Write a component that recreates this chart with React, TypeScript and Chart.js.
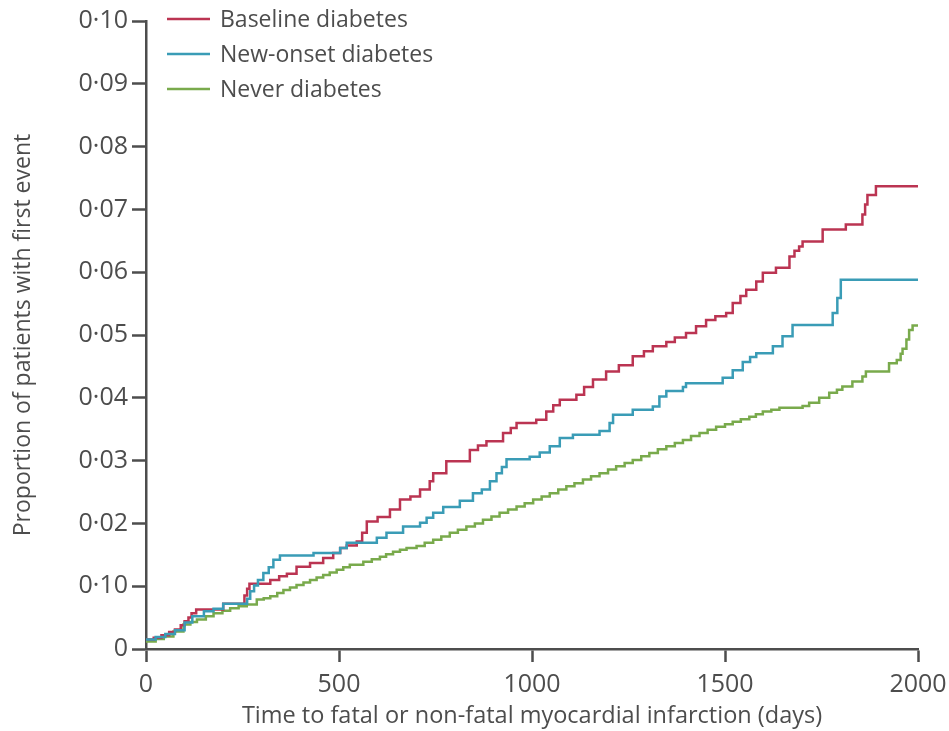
import React, { useEffect, useRef } from "react";
import { Chart, registerables } from "chart.js";

Chart.register(...registerables);

// Cumulative proportion with first event: [day, proportion] at each step
const baselineDiabetes: [number, number][] = [
  [0, 0.0015], [20, 0.0018], [40, 0.0022], [60, 0.0027], [75, 0.0031], [90, 0.0038],
  [100, 0.0044], [110, 0.005], [118, 0.0057], [130, 0.0063], [200, 0.0072], [255, 0.0085],
  [262, 0.0096], [268, 0.0104], [322, 0.011], [345, 0.0116], [365, 0.012], [390, 0.0131],
  [425, 0.0137], [459, 0.0145], [485, 0.0153], [503, 0.0161], [520, 0.0165], [546, 0.0171],
  [560, 0.0185], [572, 0.0203], [600, 0.021], [632, 0.0222], [658, 0.0238], [685, 0.0243],
  [710, 0.0254], [735, 0.0267], [744, 0.028], [778, 0.0299], [839, 0.0317], [860, 0.0324],
  [882, 0.0331], [925, 0.0344], [945, 0.0352], [960, 0.036], [1011, 0.0365], [1037, 0.0378],
  [1055, 0.0388], [1072, 0.0397], [1115, 0.0405], [1135, 0.0417], [1158, 0.0429], [1192, 0.0442],
  [1225, 0.0452], [1261, 0.0466], [1290, 0.0474], [1313, 0.0482], [1348, 0.0489], [1370, 0.0496],
  [1399, 0.0503], [1425, 0.0514], [1451, 0.0524], [1475, 0.053], [1503, 0.0535], [1520, 0.0551],
  [1540, 0.0562], [1555, 0.0572], [1581, 0.0585], [1598, 0.0599], [1632, 0.0607], [1667, 0.0625],
  [1680, 0.0634], [1692, 0.0641], [1701, 0.0649], [1753, 0.0668], [1813, 0.0676], [1856, 0.0692],
  [1863, 0.0708], [1869, 0.0723], [1891, 0.0737], [2000, 0.0737],
];

const newOnsetDiabetes: [number, number][] = [
  [0, 0.0015], [25, 0.0019], [50, 0.0024], [75, 0.003], [100, 0.0042], [120, 0.0052],
  [150, 0.006], [175, 0.0064], [200, 0.0072], [262, 0.008], [270, 0.0092], [280, 0.0101],
  [290, 0.011], [304, 0.0121], [318, 0.013], [330, 0.0142], [347, 0.0149], [434, 0.0153],
  [503, 0.0161], [520, 0.0169], [598, 0.0177], [623, 0.0185], [666, 0.0195], [710, 0.0201],
  [727, 0.0209], [744, 0.0217], [770, 0.0226], [813, 0.0236], [847, 0.0248], [870, 0.0254],
  [891, 0.0267], [908, 0.028], [922, 0.029], [934, 0.0302], [994, 0.0306], [1020, 0.0313],
  [1046, 0.0323], [1072, 0.0336], [1106, 0.0341], [1175, 0.0347], [1201, 0.036], [1210, 0.0373],
  [1261, 0.0381], [1313, 0.0386], [1330, 0.0402], [1348, 0.0411], [1391, 0.0417], [1399, 0.0423],
  [1494, 0.0432], [1520, 0.0444], [1546, 0.0457], [1565, 0.0465], [1581, 0.0471], [1624, 0.0482],
  [1649, 0.0498], [1675, 0.0516], [1779, 0.0535], [1791, 0.0559], [1800, 0.0588], [2000, 0.0588],
];

const neverDiabetes: [number, number][] = [
  [0, 0.0012], [25, 0.0016], [46, 0.002], [71, 0.0028], [97, 0.0039], [115, 0.0043],
  [132, 0.0047], [155, 0.0052], [175, 0.0057], [198, 0.0061], [218, 0.0065], [240, 0.0068],
  [261, 0.0071], [287, 0.0079], [305, 0.0081], [322, 0.0084], [340, 0.0089], [356, 0.0094],
  [373, 0.0098], [390, 0.0102], [408, 0.0106], [425, 0.011], [442, 0.0114], [459, 0.0118],
  [476, 0.0122], [494, 0.0126], [511, 0.013], [528, 0.0134], [563, 0.0139], [585, 0.0143],
  [606, 0.0147], [622, 0.0151], [640, 0.0155], [658, 0.0158], [675, 0.0161], [701, 0.0164],
  [722, 0.0169], [744, 0.0174], [765, 0.0179], [787, 0.0185], [808, 0.019], [830, 0.0195],
  [852, 0.02], [873, 0.0206], [895, 0.0211], [916, 0.0217], [938, 0.0222], [960, 0.0227],
  [981, 0.0232], [1003, 0.0238], [1025, 0.0243], [1046, 0.0248], [1068, 0.0254], [1089, 0.0259],
  [1110, 0.0264], [1132, 0.027], [1153, 0.0275], [1175, 0.028], [1197, 0.0286], [1218, 0.0291],
  [1240, 0.0296], [1261, 0.0301], [1283, 0.0307], [1304, 0.0312], [1326, 0.0318], [1348, 0.0323],
  [1370, 0.0328], [1391, 0.0333], [1412, 0.0339], [1434, 0.0344], [1455, 0.0349], [1477, 0.0354],
  [1500, 0.0358], [1520, 0.0362], [1541, 0.0366], [1563, 0.037], [1580, 0.0374], [1598, 0.0378],
  [1620, 0.0381], [1641, 0.0384], [1701, 0.0387], [1718, 0.0392], [1744, 0.04], [1770, 0.0408],
  [1790, 0.0413], [1804, 0.0418], [1830, 0.0426], [1856, 0.0434], [1865, 0.0442], [1925, 0.0455],
  [1945, 0.046], [1955, 0.047], [1960, 0.0478], [1970, 0.0493], [1977, 0.0508], [1986, 0.0515],
  [2000, 0.0515],
];

const seriesLabels = ["Baseline diabetes", "New-onset diabetes", "Never diabetes"];
const seriesColors = ["#bb3452", "#3a9cb6", "#79aa4c"];

const xTicks = [0, 500, 1000, 1500, 2000];
const yTickLabels = ["0", "0·10", "0·02", "0·03", "0·04", "0·05", "0·06", "0·07", "0·08", "0·09", "0·10"];

const xTitle = "Time to fatal or non-fatal myocardial infarction (days)";
const yTitle = "Proportion of patients with first event";

const INK = "#4d4d4d";
const FONT = "'Open Sans', 'DejaVu Sans', sans-serif";

// Legend drawn inside the plot, top-left, with short line swatches
const insetLegend = {
  id: "insetLegend",
  afterDraw(chart: Chart) {
    const { ctx, chartArea } = chart;
    const x0 = chartArea.left + 21;
    const lineLen = 43;
    const gap = 10;
    const y0 = chartArea.top - 2;
    const step = 35;
    ctx.save();
    ctx.font = `23px ${FONT}`;
    ctx.textBaseline = "middle";
    ctx.textAlign = "left";
    chart.data.datasets.forEach((ds: any, i: number) => {
      const y = y0 + i * step;
      ctx.strokeStyle = ds.borderColor;
      ctx.lineWidth = 2.5;
      ctx.beginPath();
      ctx.moveTo(x0, y);
      ctx.lineTo(x0 + lineLen, y);
      ctx.stroke();
      ctx.fillStyle = INK;
      ctx.fillText(ds.label, x0 + lineLen + gap, y + 1);
    });
    ctx.restore();
  },
};

export default function App() {
  const canvasRef = useRef<HTMLCanvasElement | null>(null);

  useEffect(() => {
    const canvas = canvasRef.current;
    if (!canvas) return;
    const toPoints = (s: [number, number][]) => s.map(([x, y]) => ({ x, y }));
    const series = [baselineDiabetes, newOnsetDiabetes, neverDiabetes];
    const drawOrder = [1, 0, 2];

    const chart = new Chart(canvas, {
      type: "line",
      data: {
        datasets: series.map((s, i) => ({
          label: seriesLabels[i],
          data: toPoints(s),
          borderColor: seriesColors[i],
          backgroundColor: seriesColors[i],
          borderWidth: 2.5,
          pointRadius: 0,
          stepped: "before" as const,
          fill: false,
          order: drawOrder[i],
        })),
      },
      plugins: [insetLegend],
      options: {
        responsive: false,
        animation: false,
        devicePixelRatio: 1,
        layout: { padding: { left: 0, top: 21, right: 31, bottom: 0 } },
        plugins: {
          legend: { display: false },
          tooltip: { enabled: false },
        },
        scales: {
          x: {
            type: "linear",
            min: 0,
            max: 2000,
            afterBuildTicks: (scale: any) => {
              scale.ticks = xTicks.map((v) => ({ value: v }));
            },
            afterFit: (scale: any) => {
              scale.height = 82;
              scale.paddingLeft = 0;
              scale.paddingRight = 0;
            },
            ticks: {
              color: INK,
              font: { family: FONT, size: 25 },
              padding: 8,
              maxRotation: 0,
              callback: (v: any) => String(v),
            },
            grid: {
              drawOnChartArea: false,
              drawTicks: true,
              tickLength: 13,
              tickWidth: 2.5,
              tickColor: INK,
            },
            border: { display: true, color: INK, width: 2.5 },
            title: {
              display: true,
              text: xTitle,
              color: INK,
              font: { family: FONT, size: 23.5 },
              padding: { top: 0, bottom: 1 },
            },
          },
          y: {
            type: "linear",
            min: 0,
            max: 0.1,
            afterBuildTicks: (scale: any) => {
              scale.ticks = yTickLabels.map((_, i) => ({ value: i / 100 }));
            },
            afterFit: (scale: any) => {
              scale.width = 146;
            },
            ticks: {
              color: INK,
              font: { family: FONT, size: 25 },
              padding: 4,
              callback: (_v: any, i: number) => yTickLabels[i],
            },
            grid: {
              drawOnChartArea: false,
              drawTicks: true,
              tickLength: 14,
              tickWidth: 2.5,
              tickColor: INK,
            },
            border: { display: true, color: INK, width: 2.5 },
            title: {
              display: true,
              text: yTitle,
              color: INK,
              font: { family: FONT, size: 23 },
              padding: { top: 10, bottom: 0 },
            },
          },
        },
      },
    });
    return () => chart.destroy();
  }, []);

  return (
    <div style={{ position: "absolute", left: 0, top: 0, width: 949, height: 731, background: "#fff" }}>
      <canvas ref={canvasRef} width={949} height={731} style={{ display: "block" }} />
    </div>
  );
}
